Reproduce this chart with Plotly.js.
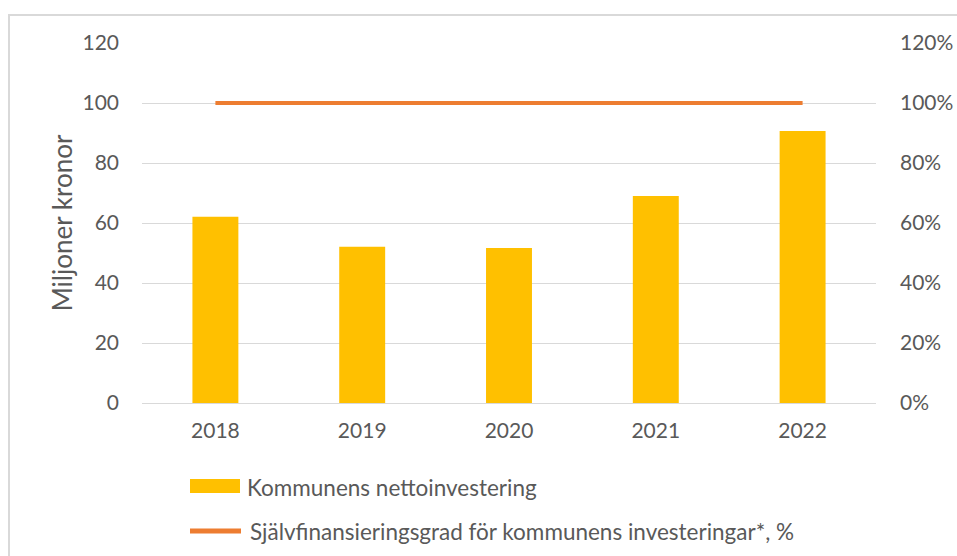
<!DOCTYPE html>
<html><head><meta charset="utf-8">
<script src="https://cdn.plot.ly/plotly-3.0.1.min.js"></script>
<style>html,body{margin:0;padding:0;background:#fff;}#c{width:957px;height:556px;}</style>
</head><body><div id="c"></div>
<script>
const years = ['2018','2019','2020','2021','2022'];
const nettoinvestering = [62.1, 52.1, 51.7, 69.0, 90.7];
const sjalvfinansieringsgrad = [1.0, 1.0, 1.0, 1.0, 1.0];
const barName = 'Kommunens nettoinvestering';
const lineName = 'Självfinansieringsgrad för kommunens investeringar*, %';
const yTicks = [0,20,40,60,80,100,120];
const y2Ticks = [0,0.2,0.4,0.6,0.8,1.0,1.2];

const txt = '#595959';
const fnt = 'Lato, "Open Sans", sans-serif';
const L=142, R=876, T=43, B=403;
const W=957, H=556;
const px = x => (x-L)/(R-L);
const py = y => (B-y)/(B-T);

const data = [
  {type:'bar', x:years, y:nettoinvestering, name:barName, marker:{color:'#FFC000'}, yaxis:'y', showlegend:false, hoverinfo:'x+y'},
  {type:'scatter', mode:'lines', x:years, y:sjalvfinansieringsgrad, name:lineName, line:{color:'#ED7D31', width:4}, yaxis:'y2', showlegend:false}
];

const layout = {
  width:W, height:H,
  margin:{l:L, r:W-R, t:T, b:H-B, pad:0},
  paper_bgcolor:'#fff', plot_bgcolor:'#fff',
  font:{family:fnt, color:txt, size:21},
  bargap:0.687,
  xaxis:{type:'category', showgrid:false, showline:true, linecolor:'#d9d9d9', linewidth:1, ticks:'', tickfont:{size:21, color:txt}, ticklabelstandoff:9},
  yaxis:{range:[0,120], tickvals:yTicks, showgrid:true, gridcolor:'#d9d9d9', gridwidth:1, zeroline:false, ticks:'', tickfont:{size:21,color:txt}, ticklabelstandoff:22,
         title:{text:'Miljoner kronor', font:{size:26,color:txt}, standoff:2}},
  yaxis2:{range:[0,1.2], tickvals:y2Ticks, tickformat:'.0%', overlaying:'y', side:'right', showgrid:false, zeroline:false, ticks:'', tickfont:{size:21,color:txt}, ticklabelstandoff:23},
  showlegend:false,
  shapes:[
    {type:'rect', xref:'paper', yref:'paper', x0:px(9), x1:px(965), y0:py(570), y1:py(15), line:{color:'#d9d9d9', width:2}, fillcolor:'rgba(0,0,0,0)', layer:'below'},
    {type:'rect', xref:'paper', yref:'paper', x0:px(190), x1:px(240), y0:py(493), y1:py(479), line:{width:0}, fillcolor:'#FFC000'},
    {type:'line', xref:'paper', yref:'paper', x0:px(190), x1:px(241), y0:py(531), y1:py(531), line:{color:'#ED7D31', width:5}}
  ],
  annotations:[
    {xref:'paper', yref:'paper', x:px(245), y:py(487), text:barName, showarrow:false, xanchor:'left', yanchor:'middle', font:{size:22.5,color:txt}},
    {xref:'paper', yref:'paper', x:px(248), y:py(531), text:lineName, showarrow:false, xanchor:'left', yanchor:'middle', font:{size:22.5,color:txt}}
  ]
};
Plotly.newPlot('c', data, layout, {displayModeBar:false, staticPlot:true});
</script></body></html>
